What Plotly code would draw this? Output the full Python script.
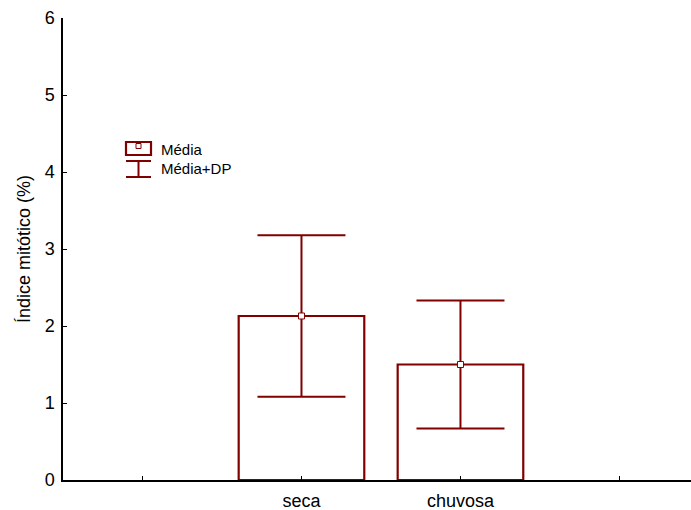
import plotly.graph_objects as go

# ---- data ----
categories = ["seca", "chuvosa"]
media = [2.13, 1.50]
dp = [1.05, 0.83]
tick_slots = ["", "seca", "chuvosa", ""]
y_ticks = [0, 1, 2, 3, 4, 5, 6]

RED = "#800000"
W, H = 691, 510
L, R, T, B = 63, 0, 18, 30
pw, ph = W - L - R, H - T - B

def px(x):
    return (x - L) / pw

def py(y):
    return (H - B - y) / ph

xpos = [tick_slots.index(c) for c in categories]

fig = go.Figure()
fig.add_trace(go.Bar(
    x=xpos, y=media, width=0.79,
    marker=dict(color="white", line=dict(color=RED, width=2.2)),
    showlegend=False, hoverinfo="skip",
))
fig.add_trace(go.Scatter(
    x=xpos, y=media, mode="markers",
    marker=dict(symbol="square", size=6, color="white", line=dict(color=RED, width=1)),
    error_y=dict(type="data", array=dp, visible=True, color=RED, thickness=2, width=44),
    showlegend=False,
))

# custom legend (paper coordinates)
shapes = [
    dict(type="rect", xref="paper", yref="paper", x0=px(126), x1=px(151), y0=py(155), y1=py(142),
         line=dict(color=RED, width=2.2), fillcolor="white"),
    dict(type="rect", xref="paper", yref="paper", x0=px(136), x1=px(141), y0=py(148.5), y1=py(143.5),
         line=dict(color=RED, width=1), fillcolor="white"),
    dict(type="line", xref="paper", yref="paper", x0=px(126), x1=px(151), y0=py(161), y1=py(161),
         line=dict(color=RED, width=2)),
    dict(type="line", xref="paper", yref="paper", x0=px(126), x1=px(151), y0=py(177), y1=py(177),
         line=dict(color=RED, width=2)),
    dict(type="line", xref="paper", yref="paper", x0=px(138.5), x1=px(138.5), y0=py(161), y1=py(177),
         line=dict(color=RED, width=2)),
]
annotations = [
    dict(text="Média", xref="paper", yref="paper", x=px(159), y=py(149), xanchor="left",
         yanchor="middle", showarrow=False, font=dict(size=15, color="black")),
    dict(text="Média+DP", xref="paper", yref="paper", x=px(159), y=py(168.5), xanchor="left",
         yanchor="middle", showarrow=False, font=dict(size=15, color="black")),
    dict(text="Índice mitótico (%)", xref="paper", yref="paper", x=0, y=0.5, xshift=-39,
         xanchor="center", yanchor="middle", textangle=-90, showarrow=False,
         font=dict(size=18, color="black")),
]

fig.update_layout(
    width=W, height=H,
    margin=dict(l=L, r=R, t=T, b=B, pad=0),
    paper_bgcolor="white", plot_bgcolor="white",
    font=dict(family="Liberation Sans, Arial, sans-serif", size=18, color="black"),
    shapes=shapes, annotations=annotations,
    showlegend=False,
    xaxis=dict(range=[-0.5, 3.45], tickmode="array", tickvals=list(range(len(tick_slots))),
               ticktext=tick_slots, ticks="inside", ticklen=4, tickcolor="black",
               showline=True, linecolor="black", linewidth=1.5, showgrid=False,
               zeroline=False, ticklabelstandoff=4),
    yaxis=dict(range=[0, 6], tickvals=y_ticks, ticks="inside", ticklen=4, tickcolor="black",
               showline=True, linecolor="black", linewidth=1.5, showgrid=False,
               zeroline=False, ticklabelstandoff=3),
)

fig.write_html("out.html")
